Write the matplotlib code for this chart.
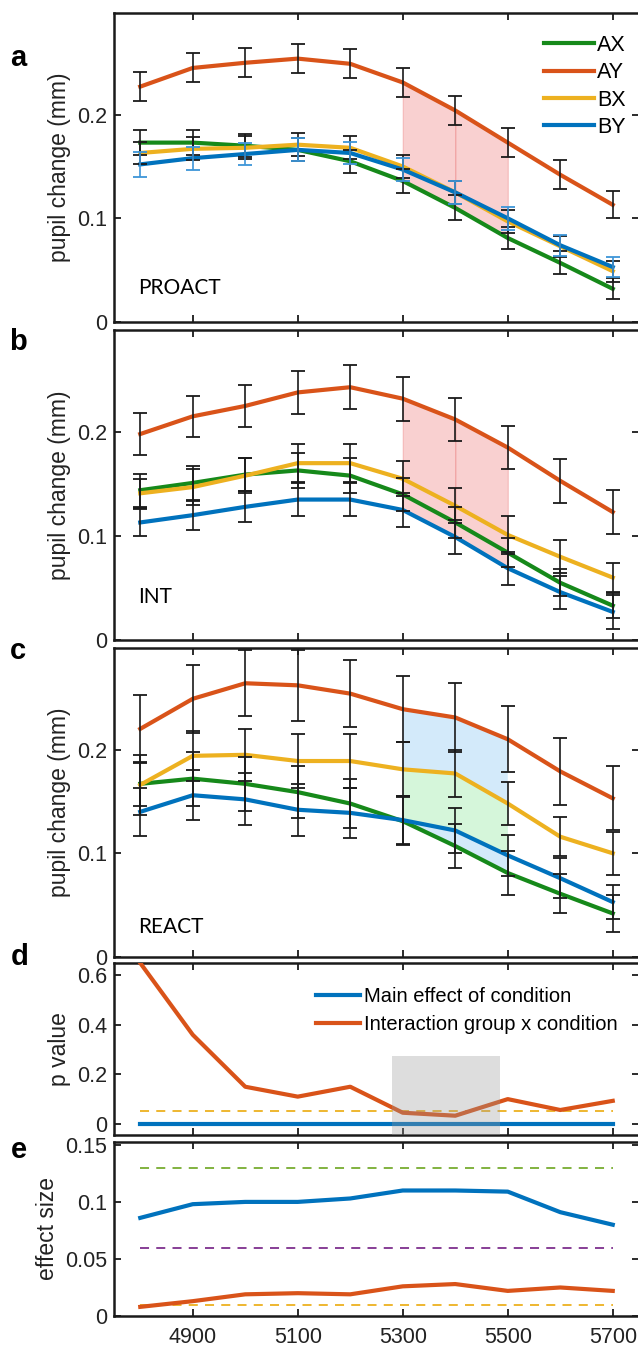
import matplotlib
matplotlib.use('Agg')
import matplotlib.pyplot as plt
from matplotlib.patches import Rectangle

plt.rcParams['font.family'] = ['Liberation Sans', 'DejaVu Sans']

# time points (ms)
times = [4800, 4900, 5000, 5100, 5200, 5300, 5400, 5500, 5600, 5700]
xtick_vals = [4900, 5100, 5300, 5500, 5700]

# a: PROACT group, pupil change (mm)
pro_ax = [0.173, 0.173, 0.170, 0.166, 0.155, 0.136, 0.110, 0.081, 0.057, 0.032]
pro_ay = [0.227, 0.245, 0.250, 0.254, 0.249, 0.231, 0.204, 0.173, 0.142, 0.113]
pro_bx = [0.163, 0.167, 0.168, 0.171, 0.168, 0.150, 0.125, 0.097, 0.073, 0.049]
pro_by = [0.152, 0.158, 0.162, 0.166, 0.163, 0.147, 0.125, 0.100, 0.074, 0.053]
pro_ax_err = [0.012, 0.012, 0.011, 0.011, 0.011, 0.012, 0.012, 0.011, 0.011, 0.010]
pro_ay_err = [0.014, 0.014, 0.014, 0.014, 0.014, 0.014, 0.014, 0.014, 0.014, 0.013]
pro_bx_err = [0.011, 0.011, 0.011, 0.011, 0.011, 0.011, 0.011, 0.011, 0.010, 0.010]
pro_by_err = [0.012, 0.011, 0.011, 0.011, 0.011, 0.011, 0.011, 0.011, 0.010, 0.010]

# b: INT group
int_ax = [0.144, 0.151, 0.159, 0.163, 0.158, 0.140, 0.113, 0.084, 0.055, 0.033]
int_ay = [0.198, 0.215, 0.225, 0.238, 0.243, 0.232, 0.212, 0.185, 0.153, 0.123]
int_bx = [0.141, 0.147, 0.158, 0.170, 0.170, 0.155, 0.129, 0.101, 0.080, 0.060]
int_by = [0.113, 0.120, 0.128, 0.135, 0.135, 0.125, 0.099, 0.069, 0.046, 0.027]
int_ax_err = [0.016, 0.016, 0.016, 0.017, 0.017, 0.016, 0.015, 0.014, 0.013, 0.012]
int_ay_err = [0.020, 0.020, 0.020, 0.021, 0.021, 0.021, 0.021, 0.021, 0.021, 0.021]
int_bx_err = [0.014, 0.017, 0.017, 0.018, 0.018, 0.017, 0.017, 0.018, 0.016, 0.014]
int_by_err = [0.013, 0.014, 0.015, 0.016, 0.016, 0.016, 0.016, 0.016, 0.016, 0.016]

# c: REACT group
rea_ax = [0.167, 0.172, 0.167, 0.159, 0.148, 0.131, 0.107, 0.081, 0.061, 0.042]
rea_ay = [0.220, 0.249, 0.264, 0.262, 0.254, 0.239, 0.231, 0.210, 0.179, 0.153]
rea_bx = [0.166, 0.194, 0.195, 0.189, 0.189, 0.181, 0.177, 0.148, 0.116, 0.100]
rea_by = [0.140, 0.156, 0.152, 0.142, 0.139, 0.132, 0.122, 0.098, 0.076, 0.053]
rea_ax_err = [0.021, 0.026, 0.026, 0.025, 0.024, 0.023, 0.021, 0.021, 0.019, 0.018]
rea_ay_err = [0.033, 0.033, 0.032, 0.034, 0.032, 0.032, 0.033, 0.032, 0.032, 0.031]
rea_bx_err = [0.029, 0.024, 0.025, 0.026, 0.026, 0.026, 0.023, 0.021, 0.019, 0.021]
rea_by_err = [0.023, 0.024, 0.025, 0.025, 0.024, 0.023, 0.022, 0.020, 0.019, 0.016]

# d: p values
p_main = [0.0, 0.0, 0.0, 0.0, 0.0, 0.0, 0.0, 0.0, 0.0, 0.0]
p_inter = [0.65, 0.36, 0.15, 0.11, 0.15, 0.045, 0.033, 0.10, 0.056, 0.093]
p_alpha = 0.05
sig_window = [5280, 5485]
sig_top = 0.275

# e: effect sizes
es_main = [0.086, 0.098, 0.100, 0.100, 0.103, 0.110, 0.110, 0.109, 0.091, 0.080]
es_inter = [0.008, 0.013, 0.019, 0.020, 0.019, 0.026, 0.028, 0.022, 0.025, 0.022]
es_large = 0.13
es_medium = 0.06
es_small = 0.01

# shaded time windows in a-c
shade_times = [5300, 5400, 5500]

GREEN = '#16891a'
RED = '#d95319'
YELLOW = '#edb120'
BLUE = '#0072bd'
LBLUE = '#3d95d8'

W, H = 638, 1349
fig = plt.figure(figsize=(W / 100, H / 100), dpi=100)


def px_axes(left, top, right, bottom):
    return fig.add_axes([left / W, 1 - bottom / H, (right - left) / W, (bottom - top) / H])


def style(ax, yticks, ylabels, bottom_labels=False):
    ax.set_xlim(4750, 5750)
    ax.set_xticks(xtick_vals)
    ax.set_yticks(yticks)
    ax.set_yticklabels(ylabels)
    for s in ax.spines.values():
        s.set_linewidth(1.8)
        s.set_color('#1a1a1a')
    ax.tick_params(direction='in', length=5, width=1.3, top=True, right=True,
                   labelsize=15.5, pad=5, colors='#1a1a1a', labelcolor='#222222')
    ax.tick_params(axis='x', labelbottom=bottom_labels, pad=8)


def idx(t):
    return times.index(t)


def pupil_panel(ax, ys, errs, err_colors, name, name_y):
    lines = []
    for y, c in zip(ys, [GREEN, RED, YELLOW, BLUE]):
        ln, = ax.plot(times, y, color=c, lw=3.0, zorder=3, solid_joinstyle='round')
        lines.append(ln)
    for y, e, ec in zip(ys, errs, err_colors):
        ax.errorbar(times, y, yerr=e, fmt='none', ecolor=ec, elinewidth=1.2,
                    capsize=5, capthick=1.3, zorder=4)
    ax.set_ylim(0, 0.298)
    style(ax, [0, 0.1, 0.2], ['0', '0.1', '0.2'])
    ax.set_ylabel('pupil change (mm)', fontsize=16.5, labelpad=4, color='#222222')
    ax.text(0.046, name_y, name, transform=ax.transAxes, fontsize=15,
            family=['Lato', 'DejaVu Sans'], va='center', ha='left')
    return lines


def shade(ax, top, bottom, color, alpha=1.0, edge=None):
    for k in range(len(shade_times) - 1):
        i0, i1 = idx(shade_times[k]), idx(shade_times[k + 1])
        ax.fill_between(times[i0:i1 + 1], top[i0:i1 + 1], bottom[i0:i1 + 1],
                        facecolor=color, alpha=alpha, edgecolor=edge,
                        linewidth=0.8 if edge else 0, zorder=1)


# panel a
ax_a = px_axes(114, 13, 639, 322)
shade(ax_a, pro_ay, pro_ax, '#f4a3a3', alpha=0.5, edge='#ee8f8f')
lines_a = pupil_panel(ax_a, [pro_ax, pro_ay, pro_bx, pro_by],
                      [pro_ax_err, pro_ay_err, pro_bx_err, pro_by_err],
                      ['#1a1a1a', '#1a1a1a', '#1a1a1a', LBLUE], 'PROACT', 0.11)
ax_a.legend(lines_a, ['AX', 'AY', 'BX', 'BY'], loc='upper right', bbox_to_anchor=(0.975, 0.93),
            frameon=False, fontsize=15.5, handlelength=2.3, handletextpad=0.15,
            labelspacing=0.3, borderpad=0, borderaxespad=0)

# panel b
ax_b = px_axes(114, 330, 639, 640)
shade(ax_b, int_ay, int_by, '#f4a3a3', alpha=0.5, edge='#ee8f8f')
pupil_panel(ax_b, [int_ax, int_ay, int_bx, int_by],
            [int_ax_err, int_ay_err, int_bx_err, int_by_err],
            ['#1a1a1a'] * 4, 'INT', 0.139)

# panel c
ax_c = px_axes(114, 648, 639, 957)
shade(ax_c, rea_ay, rea_ax, '#d3eafa')
shade(ax_c, rea_bx, rea_by, '#d5f6da')
pupil_panel(ax_c, [rea_ax, rea_ay, rea_bx, rea_by],
            [rea_ax_err, rea_ay_err, rea_bx_err, rea_by_err],
            ['#1a1a1a'] * 4, 'REACT', 0.097)

# panel d
ax_d = px_axes(114, 963, 639, 1135)
ax_d.plot([times[0], times[-1]], [p_alpha, p_alpha], ls=(0, (5, 4)), color=YELLOW, lw=1.3, zorder=2)
ax_d.plot(times, p_main, color=BLUE, lw=3.0, zorder=3, label='Main effect of condition')
ax_d.plot(times, p_inter, color=RED, lw=3.0, zorder=3, label='Interaction group x condition')
ax_d.set_ylim(-0.045, 0.65)
ax_d.add_patch(Rectangle((sig_window[0], -0.045), sig_window[1] - sig_window[0], sig_top + 0.045,
                         facecolor='#999999', alpha=0.33, edgecolor='none', zorder=5))
style(ax_d, [0, 0.2, 0.4, 0.6], ['0', '0.2', '0.4', '0.6'])
ax_d.set_ylabel('p value', fontsize=16.5, labelpad=4, color='#222222')
ax_d.legend(loc='upper right', bbox_to_anchor=(0.96, 0.86), frameon=False, fontsize=14.5,
            handlelength=2.2, handletextpad=0.2, labelspacing=0.45, borderpad=0, borderaxespad=0)

# panel e
ax_e = px_axes(114, 1142, 639, 1316)
ax_e.plot([times[0], times[-1]], [es_large, es_large], ls=(0, (5, 4)), color='#77ac30', lw=1.3)
ax_e.plot([times[0], times[-1]], [es_medium, es_medium], ls=(0, (5, 4)), color='#7e2f8e', lw=1.3)
ax_e.plot([times[0], times[-1]], [es_small, es_small], ls=(0, (5, 4)), color=YELLOW, lw=1.3)
ax_e.plot(times, es_main, color=BLUE, lw=3.0)
ax_e.plot(times, es_inter, color=RED, lw=3.0)
ax_e.set_ylim(0, 0.1525)
style(ax_e, [0, 0.05, 0.1, 0.15], ['0', '0.05', '0.1', '0.15'], bottom_labels=True)
ax_e.set_ylabel('effect size', fontsize=16.5, labelpad=4, color='#222222')

# panel letters
for letter, (px, py) in zip('abcde', [(18, 58), (18, 342), (18, 651), (20, 957), (19, 1150)]):
    fig.text(px / W, 1 - py / H, letter, fontsize=21, fontweight='bold', ha='center', va='center')

fig.savefig('out.png', dpi=100)
